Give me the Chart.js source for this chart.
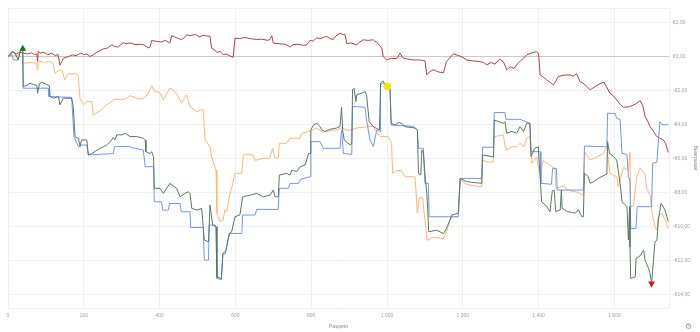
<!DOCTYPE html>
<html>
<head>
<meta charset="utf-8">
<script src="https://cdn.jsdelivr.net/npm/chart.js@4.4.0/dist/chart.umd.min.js"></script>
<style>
  html, body { margin: 0; padding: 0; background: #fff; }
  #wrap { position: relative; width: 700px; height: 332px; }
  #gear { position: absolute; left: 685px; top: 322px; font: 8px "DejaVu Sans"; color: #9a9a9a; }
</style>
</head>
<body>
<div id="wrap">
  <canvas id="c"></canvas>
  <span id="gear">⚙</span>
</div>
<script>
// [hands, winnings in €]
const redSeries = [[0,0],[3,0.05],[8,0.2],[14,0.27],[22,0.15],[30,0.25],[40,0.2],[52,0.15],[62,0.22],[70,0.12],[76,0.15],[78,-0.3],[80,0.3],[84,0.2],[95,0.25],[105,0.1],[115,0.2],[125,0.05],[132,0.12],[137,-0.5],[142,-0.3],[146,-0.1],[160,0.0],[170,0.1],[180,0.05],[192,0.2],[200,0.12],[208,0.15],[216,0.0],[225,0.1],[235,0.25],[243,0.35],[252,0.45],[262,0.5],[274,0.69],[280,0.6],[290,0.55],[304,0.82],[312,0.75],[322,0.8],[335,0.7],[350,0.72],[357,0.7],[370,0.51],[375,0.55],[379,0.94],[390,0.9],[405,0.85],[415,0.95],[427,0.8],[432,1.22],[440,1.15],[450,1.05],[458,1.0],[465,1.1],[471,1.28],[480,1.22],[495,1.3],[505,1.15],[515,1.25],[525,1.2],[533,1.2],[537,0.49],[545,0.4],[551,0.24],[560,0.3],[568,0.1],[575,0.15],[585,0.05],[594,-0.05],[599,1.08],[610,1.05],[625,1.12],[640,1.05],[655,1.0],[670,1.02],[685,0.95],[691,1.0],[696,1.22],[700,0.79],[715,0.75],[730,0.72],[735,0.69],[744,0.55],[752,0.7],[765,0.72],[780,0.65],[788,0.69],[797,0.95],[805,0.9],[814,1.1],[825,1.05],[835,1.15],[841,1.18],[850,1.05],[858,1.0],[865,1.2],[876,1.37],[883,1.3],[889,1.3],[894,0.75],[905,0.8],[915,0.72],[920,0.69],[928,0.85],[937,0.98],[950,0.95],[964,0.98],[977,0.75],[986,0.5],[990,0],[999,-0.2],[1012,-0.1],[1026,-0.12],[1034,0.2],[1043,-0.1],[1055,-0.15],[1070,-0.2],[1085,-0.2],[1100,-0.25],[1105,-1.08],[1112,-0.9],[1122,-0.78],[1135,-0.9],[1149,-0.95],[1157,-0.29],[1165,-0.1],[1175,0.16],[1190,0.05],[1200,-0.05],[1210,-0.2],[1225,-0.25],[1245,-0.3],[1255,-0.35],[1263,-0.49],[1275,-0.35],[1285,-0.45],[1297,-0.15],[1307,-0.3],[1316,-0.78],[1325,-0.6],[1335,-0.7],[1345,-0.4],[1351,-0.29],[1360,-0.1],[1369,0.1],[1380,0.2],[1395,0.29],[1400,0.15],[1404,-1.08],[1412,-1.2],[1421,-1.37],[1430,-1.5],[1439,-1.67],[1445,-1.45],[1452,-1.18],[1465,-1.1],[1483,-1.08],[1492,-1.15],[1500,-1.0],[1509,-1.47],[1520,-1.6],[1536,-1.96],[1550,-1.75],[1562,-1.6],[1571,-1.5],[1580,-1.8],[1588,-2.16],[1597,-2.3],[1606,-2.55],[1615,-2.8],[1624,-2.98],[1640,-2.95],[1655,-2.8],[1668,-2.59],[1675,-2.9],[1681,-3.53],[1688,-3.8],[1694,-4.12],[1703,-4.4],[1712,-4.71],[1720,-4.8],[1729,-4.9],[1735,-5.1],[1742,-5.63]];

const orangeSeries = [[0,0],[10,0.1],[25,0.05],[32,0.3],[38,0.45],[40,-0.4],[60,-0.35],[76,-0.4],[77,-0.78],[79,-0.25],[95,-0.35],[110,-0.3],[119,-0.4],[124,-0.98],[133,-0.85],[142,-0.8],[150,-1.37],[159,-1.0],[170,-1.05],[177,-0.98],[185,-1.1],[190,-2.45],[199,-2.84],[208,-2.65],[221,-2.65],[225,-3.43],[235,-3.3],[243,-3.2],[252,-3.0],[260,-2.84],[270,-2.7],[278,-2.55],[287,-2.5],[300,-2.55],[313,-2.45],[322,-2.3],[335,-2.4],[345,-2.5],[357,-2.45],[370,-2.2],[379,-1.72],[388,-2.05],[400,-2.1],[410,-2.55],[427,-1.86],[435,-1.95],[445,-2.2],[458,-2.74],[471,-2.25],[480,-2.94],[490,-3.1],[498,-3.23],[515,-3.1],[520,-4.9],[533,-5.29],[537,-5.88],[549,-6.67],[551,-9.2],[559,-9.7],[568,-9.6],[572,-9.02],[577,-9.1],[586,-8.04],[593,-7.45],[599,-6.86],[617,-6.86],[621,-5.78],[635,-5.75],[647,-5.8],[652,-6.1],[670,-6.0],[691,-5.95],[698,-5.39],[704,-5.95],[713,-5.95],[716,-5.1],[735,-5.1],[744,-4.8],[770,-4.8],[775,-4.51],[792,-4.41],[800,-4.35],[815,-4.2],[830,-4.45],[850,-4.35],[870,-4.3],[880,-4.2],[900,-4.35],[920,-4.2],[940,-4.15],[964,-4.1],[970,-4.4],[982,-4.7],[1003,-4.7],[1012,-5.1],[1015,-6.86],[1026,-6.7],[1039,-6.7],[1047,-7.06],[1074,-7.06],[1080,-9.2],[1085,-8.3],[1094,-8.3],[1098,-9.2],[1106,-10.8],[1122,-10.6],[1149,-10.7],[1157,-10.3],[1166,-9.6],[1175,-9.41],[1188,-9.41],[1193,-7.25],[1210,-7.5],[1230,-7.6],[1250,-7.65],[1252,-6.08],[1265,-6.2],[1280,-6.2],[1283,-4.71],[1307,-4.6],[1311,-5.2],[1316,-5.49],[1330,-5.3],[1342,-5.3],[1351,-5.1],[1361,-5.3],[1369,-4.8],[1377,-4.7],[1382,-6.27],[1395,-5.9],[1404,-7.06],[1412,-6.08],[1430,-6.4],[1443,-6.57],[1446,-7.74],[1466,-7.6],[1475,-7.8],[1483,-7.9],[1500,-7.95],[1518,-8.14],[1522,-5.59],[1536,-6.08],[1553,-5.9],[1571,-5.7],[1580,-5.3],[1588,-6.86],[1606,-7.06],[1610,-7.65],[1624,-6.5],[1637,-6.7],[1641,-5.59],[1643,-8.8],[1650,-8.8],[1659,-7.06],[1668,-6.57],[1681,-6.9],[1685,-7.74],[1694,-8.14],[1698,-9.02],[1707,-10.0],[1712,-10.2],[1716,-9.4],[1725,-9.2],[1734,-9.6],[1742,-10.1]];

const blueSeries = [[0,0],[10,0.1],[14,-0.2],[27,-0.2],[32,0.29],[36,0.43],[39,0.45],[40,-1.86],[106,-1.86],[108,-2.35],[168,-2.4],[174,-4.71],[186,-5.29],[194,-5.2],[208,-5.2],[212,-5.78],[278,-5.7],[281,-5.29],[322,-5.29],[326,-5.35],[357,-5.49],[362,-6.47],[384,-6.47],[386,-8.53],[405,-8.53],[408,-9.02],[423,-9.02],[426,-8.63],[454,-8.63],[457,-9.12],[480,-9.12],[482,-10.04],[515,-10.04],[518,-11.96],[529,-11.96],[531,-9.9],[546,-9.9],[549,-10.0],[551,-13.04],[563,-13.1],[567,-11.57],[573,-11.6],[584,-10.39],[617,-10.39],[619,-9.31],[652,-9.31],[656,-8.98],[713,-8.98],[716,-7.74],[740,-7.74],[744,-7.45],[766,-7.45],[771,-7.22],[797,-7.06],[799,-5.0],[823,-5.0],[832,-5.39],[876,-5.39],[880,-4.31],[885,-5.69],[907,-5.75],[909,-2.94],[942,-2.98],[946,-3.73],[955,-4.9],[964,-5.29],[973,-4.31],[982,-4.41],[983,-1.65],[990,-1.57],[1008,-1.86],[1011,-4.02],[1069,-4.1],[1080,-4.31],[1083,-5.39],[1096,-5.39],[1100,-7.45],[1109,-7.45],[1111,-9.41],[1188,-9.41],[1193,-7.16],[1250,-7.16],[1252,-5.33],[1281,-5.33],[1283,-3.29],[1311,-3.29],[1314,-3.69],[1351,-3.69],[1377,-3.92],[1380,-5.59],[1404,-5.59],[1406,-7.45],[1434,-7.5],[1437,-6.57],[1447,-6.57],[1449,-7.84],[1518,-7.84],[1521,-5.26],[1580,-5.3],[1582,-3.33],[1602,-3.35],[1606,-3.63],[1615,-3.7],[1620,-5.69],[1633,-5.75],[1637,-7.06],[1641,-7.3],[1643,-10.1],[1657,-10.1],[1660,-8.82],[1698,-8.82],[1701,-6.27],[1712,-6.2],[1716,-5.0],[1720,-3.82],[1725,-4.0],[1734,-4.02],[1742,-4.0]];

const greenSeries = [[0,0],[3,0.06],[10,0.29],[18,0.2],[27,-0.2],[32,0.29],[36,0.43],[39,0.45],[40,-1.76],[50,-1.7],[58,-1.57],[68,-1.65],[76,-1.7],[78,-2.16],[83,-1.6],[89,-1.5],[102,-1.65],[109,-1.7],[111,-2.35],[120,-2.45],[133,-2.35],[137,-2.84],[146,-2.45],[168,-2.45],[172,-2.94],[177,-4.71],[186,-4.8],[190,-5.29],[194,-4.9],[208,-4.9],[212,-5.78],[221,-5.7],[235,-5.5],[243,-5.39],[252,-5.3],[260,-5.2],[270,-5.0],[278,-4.75],[282,-4.9],[287,-4.6],[300,-4.6],[309,-4.51],[322,-4.7],[340,-4.7],[357,-4.8],[362,-4.9],[364,-5.59],[375,-5.7],[379,-5.59],[384,-5.88],[386,-7.74],[401,-7.74],[410,-8.04],[427,-7.45],[445,-7.74],[454,-8.24],[467,-8.04],[476,-7.94],[480,-8.04],[485,-8.92],[498,-9.02],[511,-8.92],[518,-10.78],[529,-10.88],[533,-8.73],[540,-9.9],[549,-10.0],[551,-12.94],[563,-13.04],[567,-11.57],[575,-11.4],[584,-10.39],[590,-10.3],[599,-9.41],[612,-9.3],[619,-8.24],[639,-8.14],[656,-8.04],[674,-8.24],[691,-8.14],[700,-7.84],[705,-8.24],[713,-8.24],[716,-6.96],[735,-6.86],[744,-6.96],[749,-6.67],[762,-6.76],[771,-6.47],[784,-6.37],[793,-5.69],[797,-5.69],[799,-4.31],[806,-4.02],[815,-3.92],[823,-4.12],[828,-4.31],[836,-4.41],[850,-4.27],[867,-4.2],[876,-4.1],[880,-2.98],[883,-4.31],[887,-4.9],[903,-5.2],[907,-5.1],[909,-1.96],[913,-1.86],[918,-2.65],[920,-2.25],[933,-2.15],[942,-2.06],[946,-2.25],[953,-3.82],[964,-4.12],[980,-4.31],[983,-1.57],[989,-1.43],[995,-1.65],[1001,-1.76],[1008,-1.96],[1011,-3.92],[1021,-4.02],[1030,-3.88],[1039,-3.92],[1047,-4.12],[1074,-4.2],[1080,-4.31],[1083,-6.86],[1089,-6.96],[1092,-5.49],[1096,-5.69],[1100,-6.86],[1105,-8.04],[1107,-8.8],[1110,-10.29],[1131,-10.2],[1149,-10.4],[1157,-10.1],[1171,-9.31],[1188,-9.2],[1193,-7.16],[1210,-7.35],[1250,-7.45],[1252,-5.78],[1281,-5.9],[1283,-3.73],[1307,-3.92],[1311,-3.82],[1316,-4.51],[1329,-4.4],[1342,-4.51],[1351,-4.12],[1360,-4.4],[1369,-3.92],[1377,-3.92],[1380,-5.88],[1390,-5.39],[1399,-5.3],[1404,-7.06],[1408,-8.53],[1421,-8.8],[1430,-9.12],[1436,-7.9],[1441,-7.84],[1445,-9.1],[1457,-9.0],[1460,-7.84],[1462,-8.9],[1474,-9.1],[1487,-9.15],[1496,-9.21],[1505,-9.0],[1514,-9.41],[1518,-9.41],[1521,-6.86],[1531,-7.06],[1536,-7.45],[1545,-7.35],[1562,-7.1],[1580,-6.9],[1582,-5.0],[1587,-5.69],[1593,-5.78],[1606,-6.08],[1615,-7.45],[1620,-8.53],[1633,-8.82],[1637,-10.78],[1640,-8.82],[1641,-11.2],[1643,-13.04],[1655,-12.94],[1657,-11.86],[1668,-11.7],[1677,-11.37],[1681,-11.96],[1690,-12.45],[1694,-12.74],[1698,-13.33],[1703,-11.96],[1707,-10.88],[1712,-10.8],[1716,-9.6],[1723,-8.63],[1729,-8.82],[1734,-9.06],[1742,-9.7]];

// marked point on the green line
const starPoint = [1001, -1.76];

const xTicks = [0, 200, 400, 600, 800, 1000, 1200, 1400, 1600];
const yTicks = [-14, -12, -10, -8, -6, -4, -2, 0, 2];
const xMax = 1744;
const yMin = -14.77, yMax = 2.85;

const pts = s => s.map(p => ({ x: p[0], y: p[1] }));
const hi = greenSeries.reduce((a, b) => (b[1] > a[1] ? b : a));
const lo = greenSeries.reduce((a, b) => (b[1] < a[1] ? b : a));

const fmtHands = v => String(v).replace(/\B(?=(\d{3})+(?!\d))/g, '\u00a0');
const fmtEuro = v => (v < 0 ? '-' : '') + '€' + Math.abs(v).toFixed(2).replace('.', ',');

const tickFont = { family: 'Liberation Sans', size: 5 };

new Chart(document.getElementById('c'), {
  type: 'line',
  data: {
    datasets: [
      { data: pts([hi]), showLine: false, pointRadius: 4, pointStyle: 'triangle',
        backgroundColor: '#0b7a12', borderColor: '#0b7a12', borderWidth: 0 },
      { data: pts([lo]), showLine: false, pointRadius: 4, pointStyle: 'triangle', rotation: 180,
        backgroundColor: '#e01010', borderColor: '#e01010', borderWidth: 0 },
      { data: pts([starPoint]), showLine: false, pointRadius: 4, pointStyle: 'star',
        backgroundColor: '#f2ea00', borderColor: '#efe300', borderWidth: 2 },
      { data: pts([starPoint]), showLine: false, pointRadius: 2.5, pointStyle: 'circle',
        backgroundColor: '#f5ee10', borderWidth: 0 },
      { data: pts(greenSeries), borderColor: '#587a5f' },
      { data: pts(blueSeries), borderColor: '#7394fc' },
      { data: pts(orangeSeries), borderColor: '#ffb672' },
      { data: pts(redSeries), borderColor: '#b04343' }
    ]
  },
  options: {
    responsive: true,
    maintainAspectRatio: false,
    animation: false,
    events: [],
    layout: { padding: { left: 8, top: 8, right: 0, bottom: 0 } },
    plugins: { legend: { display: false }, tooltip: { enabled: false } },
    elements: {
      line: { borderWidth: 1, tension: 0, fill: false },
      point: { radius: 0 }
    },
    scales: {
      x: {
        type: 'linear', min: 0, max: xMax,
        afterBuildTicks: ax => { ax.ticks = xTicks.concat([xMax]).map(v => ({ value: v })); },
        afterFit: ax => { ax.height = 24; },
        ticks: {
          autoSkip: false, maxRotation: 0, padding: 5, color: '#a0a0a0', font: tickFont,
          callback: v => (xTicks.includes(v) ? fmtHands(v) : '')
        },
        grid: { color: '#f0f0f0', drawTicks: false },
        border: { display: false },
        title: { display: true, text: 'Раздачи', color: '#8c8c8c', font: tickFont, padding: { top: 6, bottom: 2 } }
      },
      y: {
        position: 'right', min: yMin, max: yMax,
        afterBuildTicks: ax => { ax.ticks = [yMin].concat(yTicks, [yMax]).map(v => ({ value: v })); },
        afterFit: ax => { ax.width = 31; },
        ticks: {
          autoSkip: false, padding: 4, color: '#a0a0a0', font: tickFont,
          callback: v => (yTicks.includes(v) ? fmtEuro(v) : '')
        },
        grid: {
          drawTicks: false,
          color: c => (c.tick && c.tick.value === 0 ? '#c9c9c9' : '#f0f0f0')
        },
        border: { display: false },
        title: { display: true, text: 'Выигрыши', color: '#8c8c8c', font: tickFont, padding: { top: 2, bottom: 0 } }
      }
    }
  }
});
</script>
</body>
</html>
